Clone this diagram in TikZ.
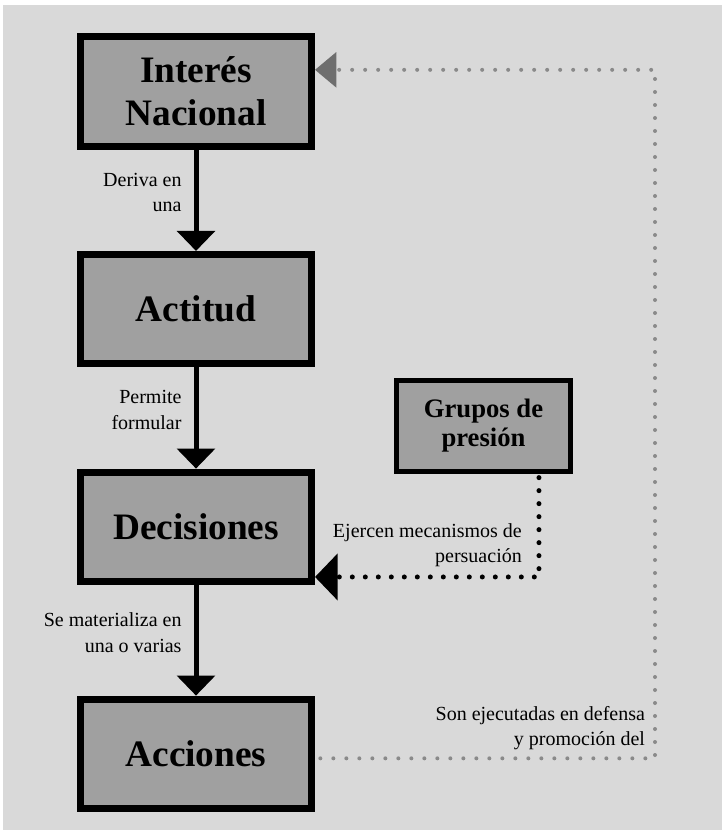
\documentclass[tikz,border=0pt]{standalone}
\usepackage{fontspec}
\setmainfont{Liberation Serif}
\usetikzlibrary{positioning, arrows.meta}
\definecolor{fondoGris}{HTML}{D9D9D9}
\definecolor{cajaGris}{HTML}{A0A0A0}
\definecolor{puntoGris}{HTML}{8A8A8A}
\definecolor{puntaGris}{HTML}{6E6E6E}

\begin{document}
\begin{tikzpicture}[node distance=76pt,
    caja/.style={draw=black, line width=5.25pt, fill=cajaGris, minimum width=173.25pt,
      minimum height=82pt, align=center, font=\fontsize{28pt}{32pt}\selectfont\bfseries},
    cajachica/.style={draw=black, line width=3.75pt, fill=cajaGris, minimum width=130.5pt,
      minimum height=68pt, inner sep=0pt, align=center, font=\fontsize{20pt}{22pt}\selectfont\bfseries},
    flecha/.style={line width=3.75pt, -{Triangle[length=15pt, width=28pt]}},
    etiqueta/.style={inner sep=0pt, align=right, text=black, font=\fontsize{15pt}{19pt}\selectfont},
    persuasion/.style={line width=3.75pt, line cap=round, dash pattern=on 0pt off 9.75pt,
      -{Triangle[length=17pt, width=34.5pt]}},
    retorno/.style={puntoGris, line width=3pt, line cap=round, dash pattern=on 0pt off 9.75pt,
      -{Triangle[length=16pt, width=26pt, color=puntaGris, fill=puntaGris]}}]
    \useasboundingbox (0,0) rectangle (541.5pt,-622.5pt);
    \fill[fondoGris] (2.25pt,-3.75pt) rectangle (541.5pt,-622.5pt);

    \node[caja] (interes) at (147pt,-68.6pt) {Interés\\Nacional};
    \node[caja, below=of interes] (actitud) {Actitud};
    \node[caja, below=of actitud] (decisiones) {Decisiones};
    \node[caja, below=83pt of decisiones] (acciones) {Acciones};
    \node[cajachica, above right=-3.75pt and 59.25pt of decisiones.north east] (grupos)
      {Grupos de\\presión};

    \draw[flecha] (interes) -- node[etiqueta, pos=0.42, left=9pt] {Deriva en\\una} (actitud);
    \draw[flecha] (actitud) -- node[etiqueta, pos=0.42, left=9pt] {Permite\\formular} (decisiones);
    \draw[flecha] (decisiones) -- node[etiqueta, pos=0.43, left=9pt] {Se materializa en\\una o varias} (acciones);

    \draw[persuasion] ([xshift=41.6pt, yshift=-3pt]grupos.south) |-
      node[etiqueta, pos=0.34, left=11pt] {Ejercen mecanismos de\\persuación}
      ([yshift=6pt]decisiones.south east);
    \draw[retorno] ([xshift=4pt, yshift=-3.4pt]acciones.east) -- ++(251pt,0)
      node[etiqueta, anchor=south east, xshift=-6pt, yshift=5pt] {Son ejecutadas en defensa\\y promoción del}
      |- ([yshift=-27.4pt]interes.north east);
\end{tikzpicture}
\end{document}
